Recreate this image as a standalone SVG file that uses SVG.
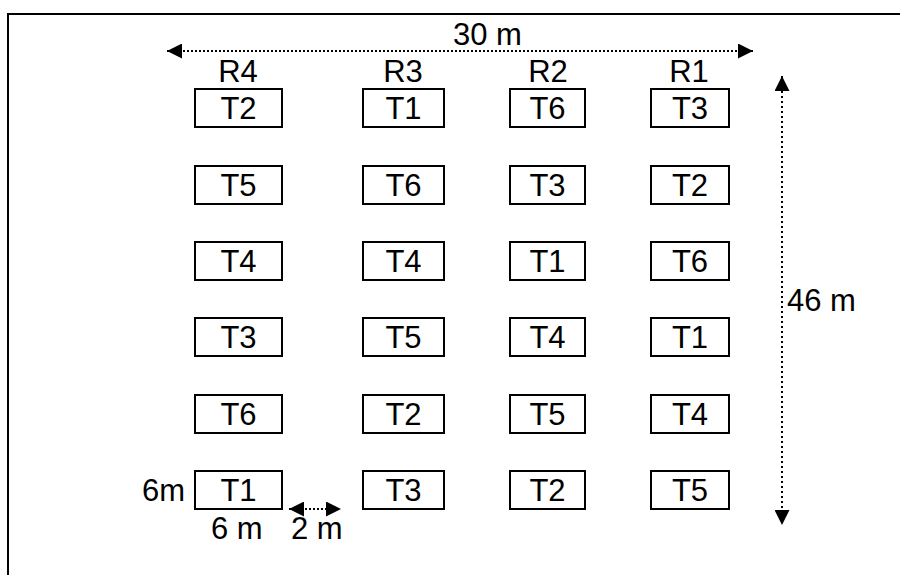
<svg xmlns="http://www.w3.org/2000/svg" width="900" height="575" viewBox="0 0 900 575">
<defs>
<style>
text{font-family:"Liberation Sans",Arial,sans-serif;font-size:31px;fill:#000}
.c{text-anchor:middle}
.box{fill:#fff;stroke:#000;stroke-width:2}
.dot{stroke:#000;stroke-width:2;fill:none}
</style>
<marker id="ah" viewBox="0 0 10 10" refX="10" refY="5" markerWidth="16" markerHeight="15" markerUnits="userSpaceOnUse" orient="auto-start-reverse"><path d="M0,0L10,5L0,10z" fill="#000"/></marker>
</defs>
<rect x="8" y="14" width="900" height="600" fill="#fff" stroke="#000" stroke-width="2"/>
<g id="labels">
<text class="c" x="238" y="82">R4</text>
<text class="c" x="403" y="82">R3</text>
<text class="c" x="548" y="82">R2</text>
<text class="c" x="689" y="82">R1</text>
<text x="453" y="45">30 m</text>
<text x="787" y="311">46 m</text>
<text x="142" y="501">6m</text>
<text x="211" y="539">6 m</text>
<text x="291" y="539">2 m</text>
</g>
<g id="connectors">
<line class="dot" x1="167" y1="51" x2="753" y2="51" stroke-dasharray="2 2" marker-start="url(#ah)" marker-end="url(#ah)"/>
<line class="dot" x1="782" y1="76" x2="782" y2="525" stroke-dasharray="2 3" marker-start="url(#ah)" marker-end="url(#ah)"/>
<line class="dot" x1="289" y1="509" x2="341" y2="509" stroke-dasharray="2 2" marker-start="url(#ah)" marker-end="url(#ah)"/>
</g>
<g id="r4">
<g id="r4-1"><rect class="box" x="195" y="89" width="87" height="38"/><text class="c" x="238.5" y="119">T2</text></g>
<g id="r4-2"><rect class="box" x="195" y="166" width="87" height="38"/><text class="c" x="238.5" y="196">T5</text></g>
<g id="r4-3"><rect class="box" x="195" y="242" width="87" height="38"/><text class="c" x="238.5" y="272">T4</text></g>
<g id="r4-4"><rect class="box" x="195" y="318" width="87" height="38"/><text class="c" x="238.5" y="348">T3</text></g>
<g id="r4-5"><rect class="box" x="195" y="395" width="87" height="38"/><text class="c" x="238.5" y="425">T6</text></g>
<g id="r4-6"><rect class="box" x="195" y="471" width="87" height="38"/><text class="c" x="238.5" y="501">T1</text></g>
</g>
<g id="r3">
<g id="r3-1"><rect class="box" x="363" y="89" width="81" height="38"/><text class="c" x="403.5" y="119">T1</text></g>
<g id="r3-2"><rect class="box" x="363" y="166" width="81" height="38"/><text class="c" x="403.5" y="196">T6</text></g>
<g id="r3-3"><rect class="box" x="363" y="242" width="81" height="38"/><text class="c" x="403.5" y="272">T4</text></g>
<g id="r3-4"><rect class="box" x="363" y="318" width="81" height="38"/><text class="c" x="403.5" y="348">T5</text></g>
<g id="r3-5"><rect class="box" x="363" y="395" width="81" height="38"/><text class="c" x="403.5" y="425">T2</text></g>
<g id="r3-6"><rect class="box" x="363" y="471" width="81" height="38"/><text class="c" x="403.5" y="501">T3</text></g>
</g>
<g id="r2">
<g id="r2-1"><rect class="box" x="510" y="89" width="75" height="38"/><text class="c" x="547.5" y="119">T6</text></g>
<g id="r2-2"><rect class="box" x="510" y="166" width="75" height="38"/><text class="c" x="547.5" y="196">T3</text></g>
<g id="r2-3"><rect class="box" x="510" y="242" width="75" height="38"/><text class="c" x="547.5" y="272">T1</text></g>
<g id="r2-4"><rect class="box" x="510" y="318" width="75" height="38"/><text class="c" x="547.5" y="348">T4</text></g>
<g id="r2-5"><rect class="box" x="510" y="395" width="75" height="38"/><text class="c" x="547.5" y="425">T5</text></g>
<g id="r2-6"><rect class="box" x="510" y="471" width="75" height="38"/><text class="c" x="547.5" y="501">T2</text></g>
</g>
<g id="r1">
<g id="r1-1"><rect class="box" x="651" y="89" width="78" height="38"/><text class="c" x="690" y="119">T3</text></g>
<g id="r1-2"><rect class="box" x="651" y="166" width="78" height="38"/><text class="c" x="690" y="196">T2</text></g>
<g id="r1-3"><rect class="box" x="651" y="242" width="78" height="38"/><text class="c" x="690" y="272">T6</text></g>
<g id="r1-4"><rect class="box" x="651" y="318" width="78" height="38"/><text class="c" x="690" y="348">T1</text></g>
<g id="r1-5"><rect class="box" x="651" y="395" width="78" height="38"/><text class="c" x="690" y="425">T4</text></g>
<g id="r1-6"><rect class="box" x="651" y="471" width="78" height="38"/><text class="c" x="690" y="501">T5</text></g>
</g>
</svg>
